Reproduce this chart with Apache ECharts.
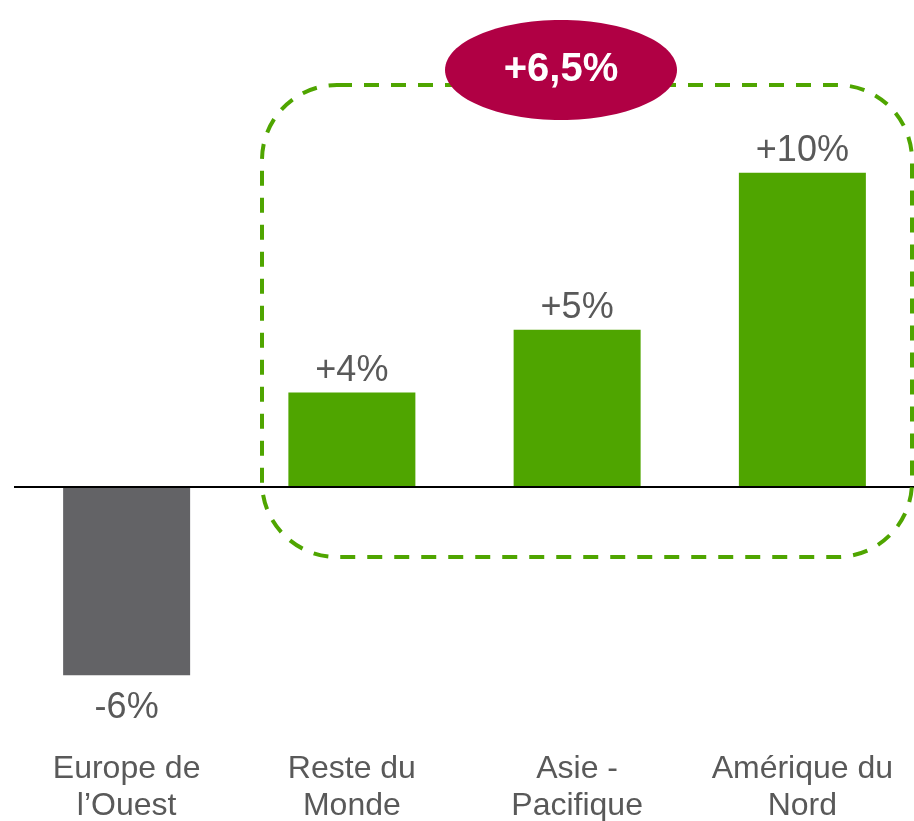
<!DOCTYPE html>
<html>
<head>
<meta charset="utf-8">
<script src="https://cdn.jsdelivr.net/npm/echarts@6/dist/echarts.min.js"></script>
<style>
  html, body { margin: 0; padding: 0; background: #fff; }
  #chart { width: 914px; height: 821px; }
</style>
</head>
<body>
<div id="chart"></div>
<script>
  // données
  const categories = ['Europe de\nl\u2019Ouest', 'Reste du\nMonde', 'Asie -\nPacifique', 'Am\u00e9rique du\nNord'];
  const values = [-6, 3, 5, 10];
  const valueLabels = ['-6%', '+4%', '+5%', '+10%'];
  const barColors = ['#636366', '#4fa500', '#4fa500', '#4fa500'];
  const groupLabel = '+6,5%';

  const textColor = '#595959';
  const green = '#4fa500';
  const font = 'Liberation Sans, Arial, sans-serif';

  const myChart = echarts.init(document.getElementById('chart'));

  const option = {
    animation: false,
    grid: {
      left: 14,
      right: -1,
      top: 110,
      bottom: 83,
      outerBoundsMode: 'none'
    },
    xAxis: {
      type: 'category',
      data: categories,
      axisLine: { show: false, onZero: false },
      axisTick: { show: false },
      axisLabel: {
        color: textColor,
        fontSize: 32,
        fontFamily: font,
        lineHeight: 37,
        margin: 13,
        interval: 0
      }
    },
    yAxis: {
      type: 'value',
      min: -8,
      max: 12,
      show: false,
      splitLine: { show: false }
    },
    series: [{
      type: 'bar',
      barWidth: 127,
      data: values.map((v, i) => ({
        value: v,
        itemStyle: { color: barColors[i] },
        label: {
          show: true,
          position: v < 0 ? 'bottom' : 'top',
          distance: v < 0 ? 15 : 4,
          formatter: () => valueLabels[i]
        }
      })),
      label: {
        color: textColor,
        fontSize: 36,
        fontFamily: font
      },
      markLine: {
        silent: true,
        symbol: 'none',
        label: { show: false },
        lineStyle: { color: '#000', width: 2, type: 'solid' },
        data: [{ yAxis: 0 }]
      }
    }],
    graphic: [
      {
        type: 'rect',
        shape: { x: 262, y: 85, width: 650, height: 472, r: 75 },
        style: { fill: null, stroke: green, lineWidth: 4, lineDash: [15, 12] },
        z: 10
      },
      {
        type: 'ellipse',
        shape: { cx: 561, cy: 70, rx: 116, ry: 50 },
        style: { fill: '#b00044' },
        z: 11
      },
      {
        type: 'text',
        x: 561,
        y: 70,
        style: {
          text: groupLabel,
          fill: '#fff',
          font: 'bold 40px ' + font,
          align: 'center',
          verticalAlign: 'middle'
        },
        z: 12
      }
    ]
  };

  myChart.setOption(option);
  window.addEventListener('resize', myChart.resize);
</script>
</body>
</html>
